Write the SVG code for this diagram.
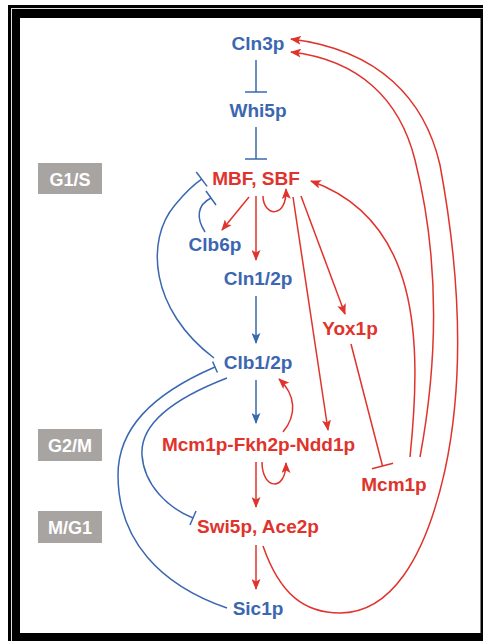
<svg xmlns="http://www.w3.org/2000/svg" width="483" height="641" viewBox="0 0 483 641">
<style>
.t{font-family:"Liberation Sans",Arial,Helvetica,sans-serif;font-weight:bold;font-size:19px;text-anchor:middle}
.b{fill:#3b67b1}
.r{fill:#e0332c}
.ph{fill:#fff;font-size:18px}
.lb{fill:none;stroke:#3b67b1;stroke-width:1.5}
.lr{fill:none;stroke:#e0332c;stroke-width:1.5}
.ab{marker-end:url(#ah-b)}
.ar{marker-end:url(#ah-r)}
</style>
<defs>
<marker id="ah-b" markerUnits="userSpaceOnUse" viewBox="0 0 11 9" refX="10" refY="4.5" markerWidth="11" markerHeight="9" orient="auto"><path d="M0,0 L11,4.5 L0,9 L2.5,4.5 z" fill="#3b67b1"/></marker>
<marker id="ah-r" markerUnits="userSpaceOnUse" viewBox="0 0 11 9" refX="10" refY="4.5" markerWidth="11" markerHeight="9" orient="auto"><path d="M0,0 L11,4.5 L0,9 L2.5,4.5 z" fill="#e0332c"/></marker>
</defs>
<g id="frame">
<rect x="0" y="0" width="483" height="641" fill="#fff"/>
<rect x="8" y="5" width="475" height="636" fill="#000"/>
<rect x="11.5" y="8.5" width="475" height="636" fill="none" stroke="#ddd" stroke-width="1"/>
<rect x="20" y="18" width="460.5" height="615" fill="#fff"/>
</g>
<g id="phases">
<g id="phase-g1s"><rect x="38" y="163" width="64" height="31" fill="#a8a4a2"/><text class="t ph" x="70" y="185.5">G1/S</text></g>
<g id="phase-g2m"><rect x="38" y="429" width="64" height="32" fill="#a8a4a2"/><text class="t ph" x="70" y="451.5">G2/M</text></g>
<g id="phase-mg1"><rect x="38" y="511" width="64" height="32" fill="#a8a4a2"/><text class="t ph" x="70" y="533.5">M/G1</text></g>
</g>
<g id="connectors">
<path class="lb" d="M256,60 V92"/><path class="lb" d="M245,92 H267"/>
<path class="lb" d="M256,127 V159"/><path class="lb" d="M245,159 H267"/>
<path class="lb" d="M205,232 C196,218 197,205 211,198"/><path class="lb" d="M206,191 L216,205"/>
<path class="lb" d="M214,358 C150,310 145,240 175,205 C185,193 193,185 201.7,179.2"/><path class="lb" d="M196.3,172 L207.1,186.4"/>
<path class="lb ab" d="M256,296 V343"/>
<path class="lb ab" d="M256,380 V423"/>
<path class="lb" d="M227,608 C160,585 118,540 118,475 C118,430 150,395 215,367"/><path class="lb" d="M212.6,361.5 L217.4,372.5"/>
<path class="lb" d="M227,378 C170,400 140,425 142,455 C144,485 168,508 193,518"/><path class="lb" d="M196,511 L190,525"/>
<path class="lr ar" d="M249,197 L222,230"/>
<path class="lr ar" d="M256,196 V260"/>
<path class="lr ar" d="M263,196 C263,216 287,220 286,189"/>
<path class="lr ar" d="M293,197 L328,430"/>
<path class="lr ar" d="M301,196 L345,314"/>
<path class="lr" d="M351,344 L382.5,466"/><path class="lr" d="M371.9,468.7 L393.1,463.3"/>
<path class="lr ar" d="M410,457 C422,340 420,220 311,181"/>
<path class="lr ar" d="M420,457 C438,360 440,260 415,160 C400,100 360,60 291,52"/>
<path class="lr ar" d="M263,546 C280,595 305,613 340,613 C390,613 425,560 445,470 C460,400 465,300 440,165 C425,100 380,50 291,39"/>
<path class="lr ar" d="M283,432 C297,415 296,395 279,379"/>
<path class="lr ar" d="M262,462 C262,490 286,492 286,463"/>
<path class="lr ar" d="M256,462 V507"/>
<path class="lr ar" d="M256,545 V589"/>
</g>
<g id="node-cln3p"><text class="t b" x="258" y="50">Cln3p</text></g>
<g id="node-whi5p"><text class="t b" x="258" y="117">Whi5p</text></g>
<g id="node-mbf-sbf"><text class="t r" x="256" y="185">MBF, SBF</text></g>
<g id="node-clb6p"><text class="t b" x="215" y="251">Clb6p</text></g>
<g id="node-cln12p"><text class="t b" x="258" y="285">Cln1/2p</text></g>
<g id="node-yox1p"><text class="t r" x="350" y="335">Yox1p</text></g>
<g id="node-clb12p"><text class="t b" x="258" y="368.5">Clb1/2p</text></g>
<g id="node-mcm1p-fkh2p-ndd1p"><text class="t r" x="258.5" y="451">Mcm1p-Fkh2p-Ndd1p</text></g>
<g id="node-mcm1p"><text class="t r" x="394" y="491">Mcm1p</text></g>
<g id="node-swi5p-ace2p"><text class="t r" x="258" y="533">Swi5p, Ace2p</text></g>
<g id="node-sic1p"><text class="t b" x="258" y="614.5">Sic1p</text></g>
</svg>
